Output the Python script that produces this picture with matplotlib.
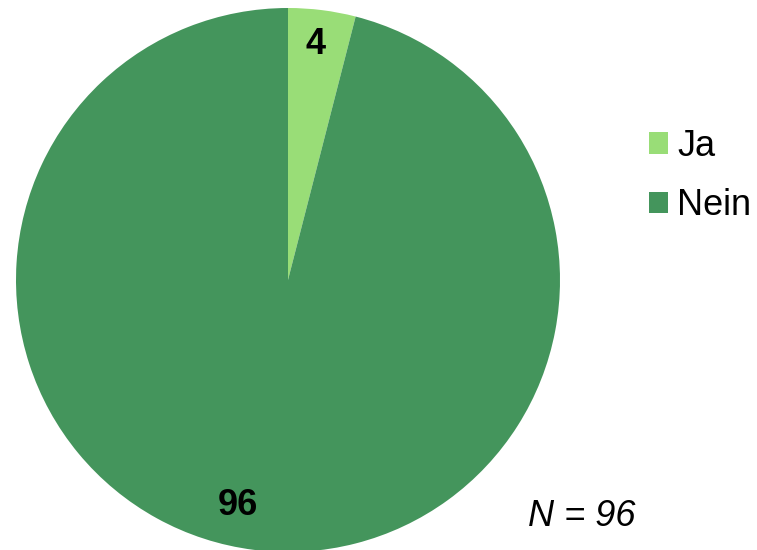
import matplotlib.pyplot as plt

labels = ["Ja", "Nein"]
values = [4, 96]
colors = ["#99DD77", "#44955C"]
n_total = 96

plt.rcParams["font.family"] = ["Liberation Sans", "DejaVu Sans"]

fig = plt.figure(figsize=(7.57, 5.5), dpi=100)
ax = fig.add_axes([16 / 757, -2 / 550, 544 / 757, 544 / 550])

wedges, _ = ax.pie(
    values,
    colors=colors,
    startangle=90,
    counterclock=False,
    radius=1.0,
    wedgeprops={"linewidth": 0},
)
ax.set_xlim(-1, 1)
ax.set_ylim(-1, 1)
ax.set_aspect("equal")
ax.axis("off")

# value labels, placed like the Excel original
ax.text(0.103, 0.865, str(values[0]), ha="center", va="center",
        fontsize=26, fontweight="bold")
ax.text(-0.184, -0.83, str(values[1]), ha="center", va="center",
        fontsize=26, fontweight="bold")

fig.legend(
    wedges, labels,
    loc="center left",
    bbox_to_anchor=(649 / 757, 1 - 176 / 550),
    frameon=False,
    fontsize=26,
    borderpad=0,
    borderaxespad=0,
    handlelength=0.53,
    handleheight=0.53,
    handletextpad=0.25,
    labelspacing=0.67,
)

fig.text(582 / 757, 1 - 517 / 550, f"N = {n_total}", ha="center", va="center",
         fontsize=26, style="italic")

fig.savefig("out.png", dpi=100)
